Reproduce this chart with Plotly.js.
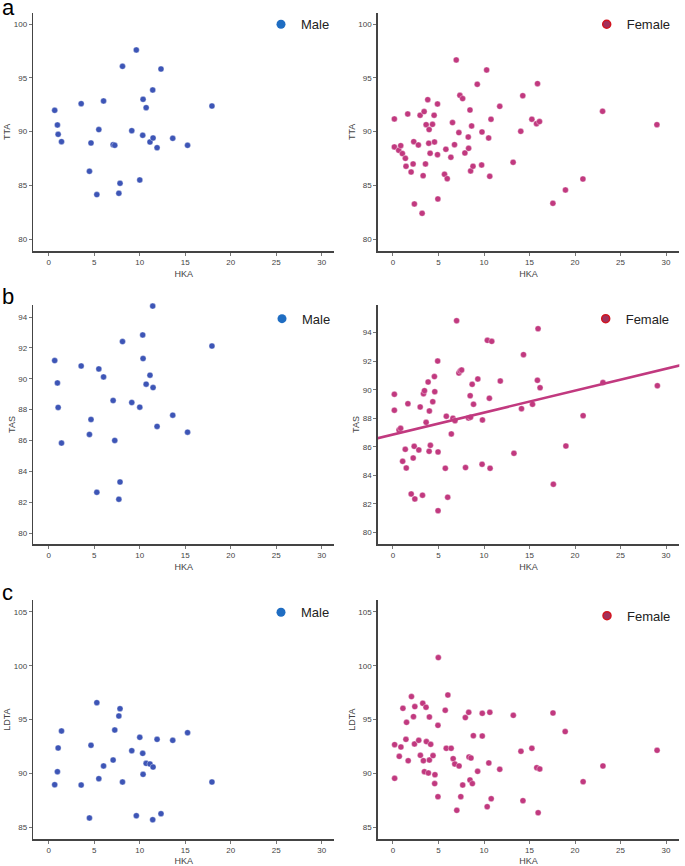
<!DOCTYPE html>
<html>
<head>
<meta charset="utf-8">
<script src="https://cdn.plot.ly/plotly-3.0.1.min.js"></script>
<style>
  html, body { margin: 0; padding: 0; background: #fff; }
  #plot { width: 685px; height: 866px; }
</style>
</head>
<body>
<div id="plot"></div>
<script>
// male: same HKA for the three rows (null = point outside the TAS range)
const maleHka  = [0.65, 0.95, 1.03, 1.40, 3.56, 4.47, 4.64, 5.28, 5.50, 6.02, 7.07, 7.25, 7.70, 7.83, 8.10, 9.12, 9.62, 10.00, 10.32, 10.36, 10.70, 11.12, 11.42, 11.46, 11.90, 12.33, 13.62, 15.25, 17.93];
const maleTta  = [91.98, 90.62, 89.75, 89.07, 92.60, 86.32, 88.95, 84.15, 90.19, 92.85, 88.79, 88.73, 84.27, 85.20, 96.07, 90.09, 97.59, 85.51, 89.66, 93.00, 92.23, 89.04, 93.87, 89.41, 88.51, 95.82, 89.38, 88.73, 92.38];
const maleTas  = [91.18, 89.73, 88.14, 85.83, 90.83, 86.39, 87.36, 82.64, 90.64, 90.12, 88.59, 86.00, 82.19, 83.31, 92.41, 88.46, null, 88.16, 92.84, 91.31, 89.65, 90.23, 94.71, 89.43, 86.91, null, 87.64, 86.54, 92.12];
const maleLdta = [88.96, 90.17, 92.37, 93.95, 88.93, 85.87, 92.62, 96.58, 89.52, 90.70, 91.25, 94.04, 95.34, 96.02, 89.21, 92.12, 86.08, 93.36, 91.87, 89.92, 90.94, 90.88, 85.71, 90.60, 93.17, 86.27, 93.08, 93.79, 89.21];

// female, row a
const femaleHkaA = [0.15, 0.15, 0.63, 0.85, 1.03, 1.36, 1.43, 1.62, 1.99, 2.21, 2.28, 2.35, 2.79, 2.98, 3.20, 3.31, 3.42, 3.57, 3.64, 3.82, 3.93, 3.97, 4.08, 4.34, 4.52, 4.56, 4.89, 4.89, 4.93, 5.66, 5.81, 5.96, 6.36, 6.54, 6.76, 6.95, 7.24, 7.35, 7.65, 7.90, 8.27, 8.31, 8.46, 8.53, 8.64, 8.79, 9.26, 9.74, 9.78, 10.29, 10.51, 10.63, 10.77, 11.73, 13.20, 14.04, 14.26, 15.26, 15.77, 15.88, 16.10, 17.57, 18.95, 20.87, 23.03, 29.00];
const femaleTta  = [91.18, 88.58, 88.27, 88.70, 87.96, 87.52, 86.78, 91.64, 86.25, 87.00, 89.07, 83.28, 88.76, 91.52, 82.41, 85.91, 91.86, 87.00, 90.65, 92.97, 88.92, 90.19, 87.99, 90.68, 91.52, 89.04, 92.57, 87.86, 83.75, 86.04, 88.36, 85.63, 87.62, 90.84, 88.79, 96.66, 89.91, 93.37, 93.07, 88.02, 89.50, 88.45, 92.01, 86.35, 90.53, 86.78, 94.40, 86.90, 89.97, 95.73, 89.41, 85.85, 91.15, 92.35, 87.15, 90.03, 93.34, 91.15, 90.74, 94.46, 90.93, 83.34, 84.58, 85.60, 91.89, 90.65];

// female, row b
const femaleHkaB = [0.15, 0.15, 0.66, 0.84, 1.06, 1.35, 1.46, 1.64, 2.00, 2.22, 2.33, 2.40, 2.84, 2.99, 3.24, 3.35, 3.46, 3.64, 3.86, 3.97, 4.00, 4.11, 4.37, 4.55, 4.59, 4.91, 4.95, 4.95, 5.75, 5.86, 6.01, 6.41, 6.59, 6.81, 6.99, 7.24, 7.39, 7.54, 7.97, 8.30, 8.48, 8.52, 8.70, 8.85, 9.32, 9.79, 9.83, 10.37, 10.59, 10.67, 10.85, 11.79, 13.29, 14.12, 14.34, 15.33, 15.87, 15.94, 16.16, 17.62, 19.00, 20.89, 23.07, 29.05];
const femaleTas  = [89.68, 88.56, 87.18, 87.29, 84.98, 85.82, 84.51, 89.02, 82.69, 85.21, 86.03, 82.34, 85.78, 88.79, 82.60, 89.72, 89.93, 87.71, 90.54, 85.68, 88.51, 86.10, 89.16, 90.92, 89.86, 92.01, 85.64, 81.52, 84.49, 88.14, 82.46, 86.90, 88.00, 87.83, 94.84, 91.17, 91.31, 91.38, 84.54, 88.02, 89.58, 88.07, 90.38, 88.98, 90.75, 84.77, 87.88, 93.46, 89.40, 84.49, 93.39, 90.61, 85.54, 88.67, 92.46, 88.98, 90.66, 94.28, 90.14, 83.37, 86.05, 88.18, 90.50, 90.28];
// fitted line, read at the two ends of the panel
const fitHka = [-1.8, 31.7];
const fitTas = [86.58, 91.73];

// female, row c
const femaleHkaC = [0.18, 0.18, 0.69, 0.87, 1.09, 1.42, 1.49, 1.67, 2.03, 2.25, 2.36, 2.40, 2.83, 3.01, 3.27, 3.34, 3.45, 3.63, 3.67, 3.89, 4.00, 4.00, 4.14, 4.40, 4.58, 4.61, 4.94, 4.94, 4.98, 5.74, 5.85, 6.03, 6.39, 6.61, 6.79, 7.01, 7.26, 7.45, 7.66, 7.95, 8.32, 8.35, 8.46, 8.57, 8.72, 8.83, 9.30, 9.81, 9.81, 10.35, 10.53, 10.64, 10.79, 11.73, 13.22, 14.06, 14.28, 15.26, 15.80, 15.95, 16.13, 17.58, 18.92, 20.89, 23.07, 29.02];
const femaleLdta = [92.68, 89.55, 91.59, 92.46, 96.05, 93.17, 94.75, 91.19, 97.14, 95.28, 92.74, 96.21, 93.08, 91.69, 96.52, 91.19, 90.17, 96.15, 92.96, 90.05, 95.25, 91.25, 92.71, 91.66, 89.06, 89.89, 87.85, 94.47, 100.76, 95.87, 92.34, 97.29, 92.34, 91.38, 90.88, 86.58, 90.70, 87.85, 88.93, 95.19, 95.68, 91.53, 89.40, 91.44, 89.06, 93.51, 90.20, 95.59, 93.48, 86.92, 90.98, 95.68, 87.66, 90.39, 95.40, 92.06, 87.48, 92.34, 90.54, 86.36, 90.42, 95.62, 93.89, 89.24, 90.70, 92.15];

const W = 685, H = 866;
const maleColor = '#3d55b6';
const femaleColor = '#c1397f';
const fontFam = 'Liberation Sans, Arial, sans-serif';

// pixel boxes of the six plots -> paper domains
function dx(a, b) { return [a / W, b / W]; }
function dy(top, bottom) { return [1 - bottom / H, 1 - top / H]; }
const colL = dx(33.3, 334), colR = dx(377.7, 679.3);
const rowA = dy(12.7, 251), rowB = dy(305, 544), rowC = dy(600, 839.3);

function xax(dom, anchor, range) {
    return {
        domain: dom, anchor: anchor, range: range,
        tickvals: [0, 5, 10, 15, 20, 25, 30],
        showline: true, linecolor: '#444', linewidth: 1.5, mirror: false,
        ticks: 'outside', ticklen: 3, tickcolor: '#777', tickwidth: 1,
        showgrid: false, zeroline: false,
        tickfont: {size: 8, color: '#444', family: fontFam},
        title: {text: 'HKA', font: {size: 9, color: '#444', family: fontFam}, standoff: 4}
    };
}
function yax(dom, anchor, range, ticks, name) {
    return {
        domain: dom, anchor: anchor, range: range, tickvals: ticks,
        showline: true, linecolor: '#444', linewidth: 1.5,
        ticks: 'outside', ticklen: 3, tickcolor: '#777', tickwidth: 1,
        showgrid: false, zeroline: false,
        tickfont: {size: 8, color: '#444', family: fontFam},
        title: {text: name, font: {size: 9, color: '#444', family: fontFam}, standoff: 1}
    };
}

function pts(x, y, color, xa, ya) {
    return {
        x: x, y: y, type: 'scatter', mode: 'markers', xaxis: xa, yaxis: ya,
        marker: {color: color, size: 6, line: {color: 'rgba(255,255,255,0.7)', width: 0.5}},
        cliponaxis: false, showlegend: false, hoverinfo: 'x+y'
    };
}
// legend entries only
function key(name, leg, xa, ya) {
    let m = name === 'Male'
        ? {color: '#1f6dc2', size: 9}
        : {color: '#a2305a', size: 8, line: {color: '#d3141f', width: 1.5}};
    return {x: [null], y: [null], type: 'scatter', mode: 'markers', name: name,
            marker: m, legend: leg, xaxis: xa, yaxis: ya, showlegend: true};
}

const data = [
    pts(maleHka, maleTta, maleColor, 'x', 'y'),
    pts(femaleHkaA, femaleTta, femaleColor, 'x2', 'y2'),
    pts(maleHka, maleTas, maleColor, 'x3', 'y3'),
    pts(femaleHkaB, femaleTas, femaleColor, 'x4', 'y4'),
    {x: fitHka, y: fitTas, type: 'scatter', mode: 'lines', xaxis: 'x4', yaxis: 'y4',
     line: {color: femaleColor, width: 2.5}, showlegend: false, hoverinfo: 'skip'},
    pts(maleHka, maleLdta, maleColor, 'x5', 'y5'),
    pts(femaleHkaC, femaleLdta, femaleColor, 'x6', 'y6'),
    key('Male', 'legend', 'x', 'y'),
    key('Female', 'legend2', 'x2', 'y2'),
    key('Male', 'legend3', 'x3', 'y3'),
    key('Female', 'legend4', 'x4', 'y4'),
    key('Male', 'legend5', 'x5', 'y5'),
    key('Female', 'legend6', 'x6', 'y6')
];

function leg(textLeft, midY) {
    return {
        x: (textLeft - 37) / W, y: 1 - midY / H, xanchor: 'left', yanchor: 'middle',
        bgcolor: 'rgba(0,0,0,0)', borderwidth: 0,
        font: {size: 13, color: '#222', family: fontFam}
    };
}
function letter(t, baseY) {
    return {text: t, xref: 'paper', yref: 'paper', x: 0, y: 1 - (baseY + 5) / H,
            xanchor: 'left', yanchor: 'bottom', showarrow: false,
            font: {size: 22, color: '#000', family: fontFam}};
}

const layout = {
    width: W, height: H,
    margin: {l: 0, r: 0, t: 0, b: 0},
    paper_bgcolor: '#fff', plot_bgcolor: '#fff',
    font: {family: fontFam},
    xaxis:  xax(colL, 'y', [-1.7, 31.34]),
    yaxis:  yax(rowA, 'x', [78.91, 101.05], [80, 85, 90, 95, 100], 'TTA'),
    xaxis2: xax(colR, 'y2', [-1.68, 31.46]),
    yaxis2: yax(rowA, 'x2', [78.91, 101.05], [80, 85, 90, 95, 100], 'TTA'),
    xaxis3: xax(colL, 'y3', [-1.7, 31.34]),
    yaxis3: yax(rowB, 'x3', [79.29, 94.78], [80, 82, 84, 86, 88, 90, 92, 94], 'TAS'),
    xaxis4: xax(colR, 'y4', [-1.68, 31.46]),
    yaxis4: yax(rowB, 'x4', [79.18, 95.94], [80, 82, 84, 86, 88, 90, 92, 94], 'TAS'),
    xaxis5: xax(colL, 'y5', [-1.7, 31.34]),
    yaxis5: yax(rowC, 'x5', [83.89, 106.11], [85, 90, 95, 100, 105], 'LDTA'),
    xaxis6: xax(colR, 'y6', [-1.68, 31.46]),
    yaxis6: yax(rowC, 'x6', [83.89, 106.11], [85, 90, 95, 100, 105], 'LDTA'),
    legend:  leg(298, 24.3),
    legend2: leg(623.7, 24.3),
    legend3: leg(299, 318.7),
    legend4: leg(622.7, 318.7),
    legend5: leg(298, 612.3),
    legend6: leg(624, 615.7),
    annotations: [letter('a', 17), letter('b', 306), letter('c', 601.5)],
    showlegend: true
};

Plotly.newPlot('plot', data, layout, {displayModeBar: false, staticPlot: true});
</script>
</body>
</html>
